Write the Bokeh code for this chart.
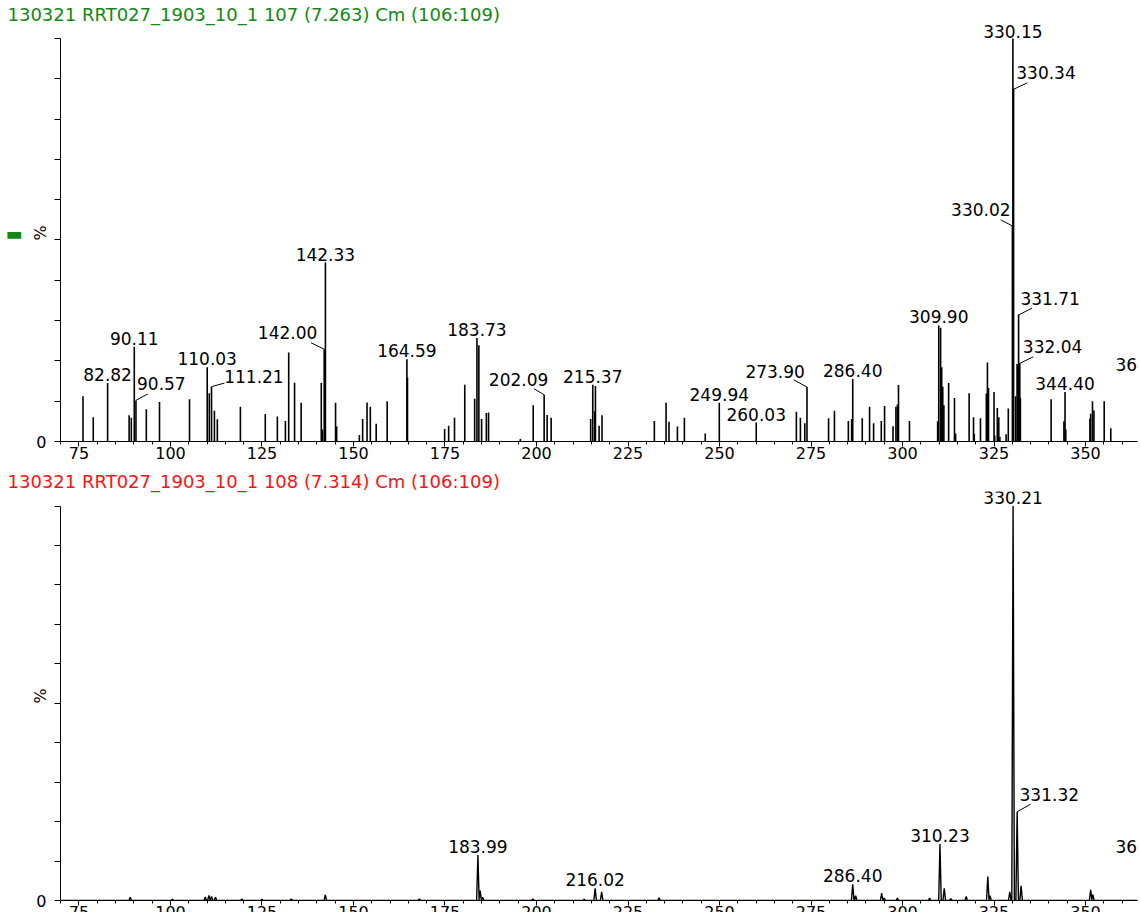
from bokeh.plotting import figure
from bokeh.models import ColumnDataSource, FixedTicker, LabelSet, Range1d, LinearAxis
from bokeh.layouts import column
from bokeh.core.properties import value
from bokeh.embed import file_html
from bokeh.resources import INLINE

FONT = "DejaVu Sans"

top_title = "130321 RRT027_1903_10_1 107 (7.263) Cm (106:109)"
bot_title = "130321 RRT027_1903_10_1 108 (7.314) Cm (106:109)"

x_ticks = [75, 100, 125, 150, 175, 200, 225, 250, 275, 300, 325, 350]
x_minor = list(range(70, 365, 5))
y_ticks = [0, 10, 20, 30, 40, 50, 60, 70, 80, 90, 100]

# ---------------- top spectrum (centroid sticks) ----------------
top_mz = [76.1, 78.9, 82.82, 88.7, 89.3, 90.11, 90.57, 93.4, 97.0, 105.2,
          110.03, 110.6, 111.21, 112.0, 112.8, 119.1, 125.9, 129.2, 131.4, 132.3,
          133.9, 135.7, 141.2, 141.5, 142.00, 142.33, 145.1, 145.4, 151.6, 152.5,
          153.7, 154.6, 156.2, 159.2, 164.59, 164.75, 174.9, 176.0, 177.6, 180.4,
          183.1, 183.73, 184.25, 185.0, 186.3, 186.9, 195.6, 199.1, 202.09, 202.9,
          204.0, 214.8, 215.37, 215.9, 216.1, 217.1, 217.9, 232.2, 235.4, 236.2,
          238.5, 240.4, 246.1, 249.94, 260.03, 271.0, 272.1, 273.3, 273.90, 279.8,
          281.4, 285.2, 286.1, 286.40, 289.0, 291.0, 292.1, 294.2, 295.1, 297.4,
          298.2, 298.6, 298.9, 301.9, 309.6, 309.90, 310.4, 310.7, 311.0, 311.3,
          312.6, 314.2, 314.5, 318.2, 319.4, 319.6, 321.3, 322.9, 323.2, 323.5,
          325.0, 325.2, 325.9, 326.3, 326.6, 328.3, 328.9, 330.02, 330.15, 330.34,
          330.9, 331.3, 331.5, 331.71, 332.04, 332.2, 340.6, 344.1, 344.40, 344.6,
          351.2, 351.4, 351.9, 352.3, 355.1, 356.9]
top_int = [11.2, 6.0, 14.5, 6.5, 5.9, 23.5, 10.2, 8.0, 9.8, 10.5,
           18.4, 12.0, 13.6, 7.6, 5.5, 8.6, 6.8, 6.2, 5.1, 22.1,
           14.6, 9.6, 14.5, 3.0, 22.9, 44.4, 9.6, 3.7, 1.6, 5.6,
           9.7, 8.6, 4.4, 10.0, 20.4, 15.9, 3.1, 3.9, 5.9, 14.1,
           10.6, 25.7, 23.9, 5.6, 7.1, 7.2, 0.6, 9.0, 11.6, 6.6,
           5.9, 5.6, 14.1, 7.5, 13.8, 3.9, 6.5, 5.1, 9.6, 4.9,
           3.7, 5.9, 2.0, 9.6, 4.7, 7.4, 5.9, 4.5, 13.5, 5.8,
           7.6, 5.1, 5.6, 15.5, 5.8, 8.6, 4.5, 5.1, 8.8, 3.8,
           8.6, 9.2, 14.0, 5.1, 5.0, 28.8, 28.2, 18.4, 13.6, 9.0,
           14.5, 10.8, 2.0, 12.0, 6.0, 1.9, 5.8, 11.9, 19.6, 13.3,
           12.3, 1.5, 8.3, 6.0, 1.2, 1.8, 8.2, 53.5, 100.0, 87.5,
           11.2, 19.2, 19.2, 31.5, 19.4, 10.8, 10.5, 5.0, 12.3, 3.0,
           5.7, 6.9, 10.0, 7.7, 10.0, 3.3]

top_lab_text = ["82.82", "90.11", "90.57", "110.03", "111.21", "142.00", "142.33",
                "164.59", "183.73", "202.09", "215.37", "249.94", "260.03", "273.90",
                "286.40", "309.90", "330.15", "330.34", "330.02", "331.71", "332.04",
                "344.40", "366.11"]
top_lab_x = [82.82, 90.11, 97.5, 110.03, 122.8, 132.0, 142.33,
             164.59, 183.73, 195.1, 215.37, 249.94, 260.03, 265.2,
             286.40, 309.90, 330.15, 339.2, 321.4, 340.35, 341.0,
             344.40, 366.3]
top_lab_y = [14.5, 23.5, 12.3, 18.4, 13.9, 25.0, 44.4,
             20.4, 25.7, 13.3, 14.1, 9.6, 4.7, 15.2,
             15.5, 28.8, 99.5, 89.4, 55.4, 33.3, 21.4,
             12.3, 17.0]
# leader lines: peak top -> label corner
top_lead_x0 = [90.57, 111.21, 142.00, 202.09, 273.90, 330.34, 330.02, 331.71, 332.04]
top_lead_y0 = [10.2, 13.6, 22.9, 11.6, 13.5, 87.4, 53.5, 31.4, 19.4]
top_lead_x1 = [93.8, 114.75, 138.4, 199.3, 270.3, 334.1, 326.8, 335.4, 335.7]
top_lead_y1 = [11.8, 14.5, 24.5, 13.1, 15.3, 89.0, 55.0, 33.1, 21.0]

# ---------------- bottom spectrum (continuum profile) ----------------
bot_peak_mz = [89.0, 100.5, 109.5, 110.5, 111.2, 112.3, 119.5, 125.0, 133.0, 142.3,
               168.0, 183.99, 184.6, 185.3, 199.0, 213.0, 216.02, 217.8, 233.5, 286.40,
               287.2, 294.3, 295.0, 298.6, 307.4, 310.23, 311.4, 313.2, 317.4, 323.3,
               323.9, 329.3, 330.21, 331.32, 332.4, 351.4, 352.0]
bot_peak_int = [0.8, 0.3, 0.9, 1.3, 1.0, 0.8, 0.4, 0.3, 0.4, 1.4,
                0.4, 11.5, 2.5, 0.8, 0.4, 0.3, 3.1, 2.2, 0.7, 4.1,
                1.2, 1.9, 0.6, 0.6, 0.6, 14.3, 3.1, 0.5, 1.0, 6.1,
                1.2, 2.2, 100.0, 22.5, 3.7, 2.7, 1.5]
bot_lab_text = ["183.99", "216.02", "286.40", "310.23", "330.21", "331.32", "366.08"]
bot_lab_x = [183.99, 216.02, 286.40, 310.23, 330.21, 340.1, 366.3]
bot_lab_y = [11.5, 3.1, 4.1, 14.3, 100.0, 24.8, 11.6]
bot_lead_x0 = [331.32]
bot_lead_y0 = [22.5]
bot_lead_x1 = [335.0]
bot_lead_y1 = [24.4]

X_LO, X_HI = 69.95, 364.2
HALF_W = 0.35


def style_fig(p, title_color, mark_color=None):
    p.title.text_color = title_color
    p.title.text_font = FONT
    p.title.text_font_size = "18px"
    p.title.text_font_style = "normal"
    p.title.align = "left"
    p.title.offset = -53
    p.title.standoff = 0
    p.outline_line_color = None
    p.grid.visible = False
    p.background_fill_color = "white"
    p.border_fill_color = "white"

    xa = p.xaxis[0]
    xa.ticker = FixedTicker(ticks=x_ticks, minor_ticks=x_minor)
    xa.major_tick_out = 5
    xa.major_tick_in = 0
    xa.minor_tick_out = 3
    xa.minor_tick_in = 0
    xa.major_label_standoff = 0
    xa.major_label_text_font = FONT
    xa.major_label_text_font_size = "16px"
    xa.major_label_text_color = "black"
    xa.axis_line_color = "black"
    xa.major_tick_line_color = "black"
    xa.minor_tick_line_color = "black"

    ya = p.yaxis[0]
    ya.bounds = (0, 100)
    ya.ticker = FixedTicker(ticks=y_ticks, minor_ticks=[])
    ya.major_label_overrides = {t: "" for t in y_ticks if t != 0}
    ya.major_tick_out = 6
    ya.major_tick_in = 0
    ya.major_label_standoff = 8
    ya.major_label_text_font = FONT
    ya.major_label_text_font_size = "16px"
    ya.major_label_text_color = "black"
    ya.axis_label = "%"
    ya.axis_label_text_font = FONT
    ya.axis_label_text_font_size = "16px"
    ya.axis_label_text_font_style = "normal"
    ya.axis_label_text_color = "black"
    ya.axis_label_standoff = -17
    ya.axis_line_color = "black"
    ya.major_tick_line_color = "black"

    if mark_color is not None:
        mark = LinearAxis(ticker=FixedTicker(ticks=[]), axis_line_color=None,
                          major_tick_line_color=None, minor_tick_line_color=None,
                          axis_label="\u25AC", axis_label_orientation="horizontal",
                          axis_label_text_color=mark_color, axis_label_text_font=FONT,
                          axis_label_text_font_size="18px", axis_label_standoff=6)
        p.add_layout(mark, "left")


def add_labels(p, xs, ys, texts):
    src = ColumnDataSource(dict(x=xs, y=ys, t=texts))
    p.add_layout(LabelSet(x="x", y="y", text="t", source=src, text_align="center",
                          text_baseline="alphabetic", y_offset=2,
                          text_font=value(FONT), text_font_size="17px",
                          text_color="black"))


# ---- top figure
p1 = figure(title=top_title, frame_width=1077, frame_height=417,
            x_range=Range1d(X_LO, X_HI), y_range=Range1d(0, 103.47),
            min_border_left=60, min_border_right=3, min_border_top=24, min_border_bottom=26,
            output_backend="svg", toolbar_location=None)
style_fig(p1, "#118811", mark_color="#118811")
p1.segment(x0="x", y0=0, x1="x", y1="y", source=ColumnDataSource(dict(x=top_mz, y=top_int)),
           line_color="black", line_width=1.6, line_cap="butt")
p1.segment(x0=top_lead_x0, y0=top_lead_y0, x1=top_lead_x1, y1=top_lead_y1,
           line_color="black", line_width=1)
add_labels(p1, top_lab_x, top_lab_y, top_lab_text)

# ---- bottom figure (profile built from read peak apexes)
bx = [X_LO]
by = [0.0]
for c, h in sorted(zip(bot_peak_mz, bot_peak_int)):
    bx += [c - HALF_W, c, c + HALF_W]
    by += [0.0, h, 0.0]
bx.append(X_HI)
by.append(0.0)

p2 = figure(title=bot_title, frame_width=1077, frame_height=409,
            x_range=p1.x_range, y_range=Range1d(0, 103.68),
            min_border_left=60, min_border_right=3, min_border_top=24, min_border_bottom=26,
            output_backend="svg", toolbar_location=None)
style_fig(p2, "#ff1111")
p2.line(bx, by, line_color="black", line_width=1.4)
p2.segment(x0=bot_lead_x0, y0=bot_lead_y0, x1=bot_lead_x1, y1=bot_lead_y1,
           line_color="black", line_width=1)
add_labels(p2, bot_lab_x, bot_lab_y, bot_lab_text)

layout = column(p1, p2, spacing=0)
open("out.html", "w").write(file_html(layout, INLINE))
